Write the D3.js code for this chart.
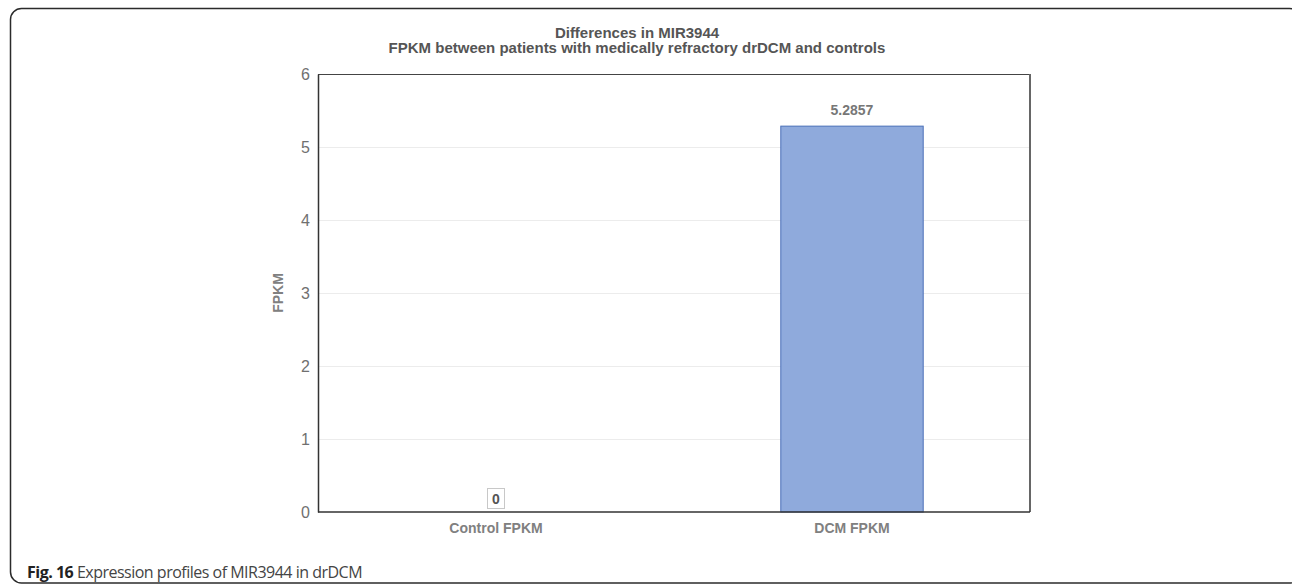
<!DOCTYPE html>
<html>
<head>
<meta charset="utf-8">
<script src="https://cdn.jsdelivr.net/npm/d3@7"></script>
<style>
  html, body { margin: 0; padding: 0; background: #fff; }
  svg { display: block; }
</style>
</head>
<body>
<svg id="chart" width="1292" height="584"></svg>
<script>
const categories = ["Control FPKM", "DCM FPKM"];
const values = [0, 5.2857];
const valueLabels = ["0", "5.2857"];
const yTicks = [0, 1, 2, 3, 4, 5, 6];
const titleLines = ["Differences in MIR3944", "FPKM between patients with medically refractory drDCM and controls"];
const yTitle = "FPKM";
const captionBold = "Fig. 16";
const captionText = " Expression profiles of MIR3944 in drDCM";

const svg = d3.select("#chart");
const plot = { left: 318, right: 1030, top: 74, bottom: 512 };
const chartFont = "Liberation Sans, Arial, sans-serif";

// outer rounded frame
svg.append("rect")
  .attr("x", 10.5).attr("y", 8.5)
  .attr("width", 1290).attr("height", 574.5)
  .attr("rx", 11).attr("ry", 11)
  .attr("fill", "none").attr("stroke", "#2b2b2b").attr("stroke-width", 1.5);

const x = d3.scaleBand().domain(categories).range([plot.left, plot.right]).paddingInner(0.6).paddingOuter(0.3);
const y = d3.scaleLinear().domain([0, 6]).range([plot.bottom, plot.top]);

// gridlines
svg.append("g").selectAll("line").data(yTicks.filter(d => d > 0 && d < 6)).join("line")
  .attr("x1", plot.left).attr("x2", plot.right)
  .attr("y1", d => y(d) + 0.5).attr("y2", d => y(d) + 0.5)
  .attr("stroke", "#ececec").attr("stroke-width", 1);

// bars
svg.append("g").selectAll("rect").data(values).join("rect")
  .attr("x", (d, i) => x(categories[i]))
  .attr("width", x.bandwidth())
  .attr("y", d => y(d))
  .attr("height", d => y(0) - y(d))
  .attr("fill", "#8faadc")
  .attr("stroke", "#4a6fb8").attr("stroke-width", 1);

// plot frame (top/right)
svg.append("line").attr("x1", plot.left).attr("x2", plot.right).attr("y1", plot.top + 0.5).attr("y2", plot.top + 0.5)
  .attr("stroke", "#444").attr("stroke-width", 1.2);
svg.append("line").attr("x1", plot.right).attr("x2", plot.right).attr("y1", plot.top).attr("y2", plot.bottom)
  .attr("stroke", "#666").attr("stroke-width", 2);

// y axis
const yAxis = svg.append("g").attr("transform", `translate(${plot.left},0)`)
  .call(d3.axisLeft(y).tickValues(yTicks).tickSize(0).tickPadding(8).tickFormat(d3.format("d")));
yAxis.select(".domain").attr("stroke", "#333").attr("stroke-width", 1.5);
yAxis.selectAll("text").attr("font-family", chartFont)
  .attr("font-size", 16).attr("fill", "#707070");

// x axis
const xAxis = svg.append("g").attr("transform", `translate(0,${plot.bottom})`)
  .call(d3.axisBottom(x).tickSize(0).tickPadding(11));
xAxis.select(".domain").attr("stroke", "#333").attr("stroke-width", 1.5).attr("d", `M${plot.left},0H${plot.right}`);
xAxis.selectAll("text").attr("font-family", chartFont)
  .attr("font-size", 14).attr("font-weight", "bold").attr("fill", "#808080");

// value labels
values.forEach((v, i) => {
  const cx = x(categories[i]) + x.bandwidth() / 2;
  if (v === 0) {
    const g = svg.append("g");
    g.append("rect").attr("x", cx - 8.5).attr("y", 488.5).attr("width", 17).attr("height", 20)
      .attr("fill", "#fff").attr("stroke", "#c8c8c8").attr("stroke-width", 1);
    g.append("text").attr("x", cx).attr("y", 504).attr("text-anchor", "middle")
      .attr("font-family", chartFont).attr("font-size", 14)
      .attr("font-weight", "bold").attr("fill", "#555").text(valueLabels[i]);
  } else {
    svg.append("text").attr("x", cx).attr("y", y(v) - 11).attr("text-anchor", "middle")
      .attr("font-family", chartFont).attr("font-size", 14)
      .attr("font-weight", "bold").attr("fill", "#777").text(valueLabels[i]);
  }
});

// title
svg.append("g").selectAll("text").data(titleLines).join("text")
  .attr("x", 637).attr("y", (d, i) => 38 + i * 15)
  .attr("text-anchor", "middle")
  .attr("font-family", chartFont).attr("font-size", 15)
  .attr("font-weight", "bold").attr("fill", "#555").text(d => d);

// y title
svg.append("text").attr("transform", `translate(283,${(plot.top + plot.bottom) / 2}) rotate(-90)`)
  .attr("text-anchor", "middle")
  .attr("font-family", chartFont).attr("font-size", 14)
  .attr("font-weight", "bold").attr("fill", "#808080").text(yTitle);

// caption
const cap = svg.append("text").attr("x", 27).attr("y", 578)
  .attr("font-family", "Open Sans, Noto Sans, sans-serif").attr("font-size", 16)
  .attr("letter-spacing", -0.5).attr("fill", "#222");
cap.append("tspan").attr("font-weight", "bold").text(captionBold);
cap.append("tspan").attr("fill", "#444").text(captionText);
</script>
</body>
</html>
